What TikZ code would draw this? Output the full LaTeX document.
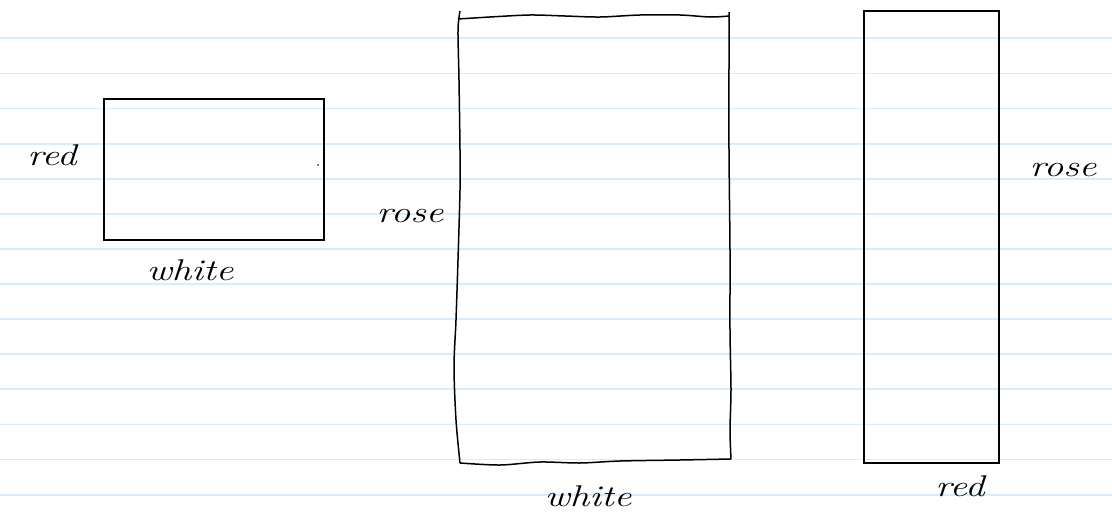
\documentclass[tikz,border=0pt]{standalone}
\tikzset{
  rule/.style={draw=ruleblue, line width=1.8pt},
  boxline/.style={draw=black, line width=1.5pt},
  hand/.style={font=\fontsize{30}{30}\selectfont\itshape, inner sep=0pt, xscale=1.3},
}
\definecolor{ruleblue}{HTML}{DAECF9}
\begin{document}
\begin{tikzpicture}[x=1pt,y=-1pt]
\useasboundingbox (0,0) rectangle (1112,514);
\fill[white] (0,0) rectangle (1112,514);
% ruled lines
\foreach \k in {0,...,13}{
  \draw[rule] (0,{38.3+35.1*\k}) -- (1112,{38.3+35.1*\k});
}
% box 1
\node[boxline, minimum width=220pt, minimum height=141pt, inner sep=0pt, anchor=north west] (b1) at (103,98) {};
\fill (318,165) circle (0.9pt);
% box 2 (hand drawn)
\draw[boxline, line join=round] plot[smooth] coordinates {(460,11) (458,30) (459,80) (460,150) (460,190) (458,260) (456,320) (454,367) (456,420) (460,463)};
\draw[boxline, line join=round] plot[smooth] coordinates {(458,19) (490,17) (530,15) (565,16) (600,17) (640,15) (680,15) (710,17) (729,16)};
\draw[boxline, line join=round] plot[smooth] coordinates {(729,12) (729,60) (729,150) (730,250) (730,330) (731,390) (730,430) (731,459)};
\draw[boxline, line join=round] plot[smooth] coordinates {(460,463) (500,465) (540,462) (580,463) (620,461) (680,460) (731,459)};
% box 3
\node[boxline, minimum width=135pt, minimum height=452pt, inner sep=0pt, anchor=north west] (b3) at (863,10) {};
% labels
\node[hand] (l1) at (52,155) {red};
\node[hand] (l2) at (190,270) {white};
\node[hand] (l3) at (410,216) {rose};
\node[hand] (l4) at (588,496) {white};
\node[hand] (l5) at (1063,170) {rose};
\node[hand] (l6) at (960,486) {red};
\end{tikzpicture}
\end{document}
